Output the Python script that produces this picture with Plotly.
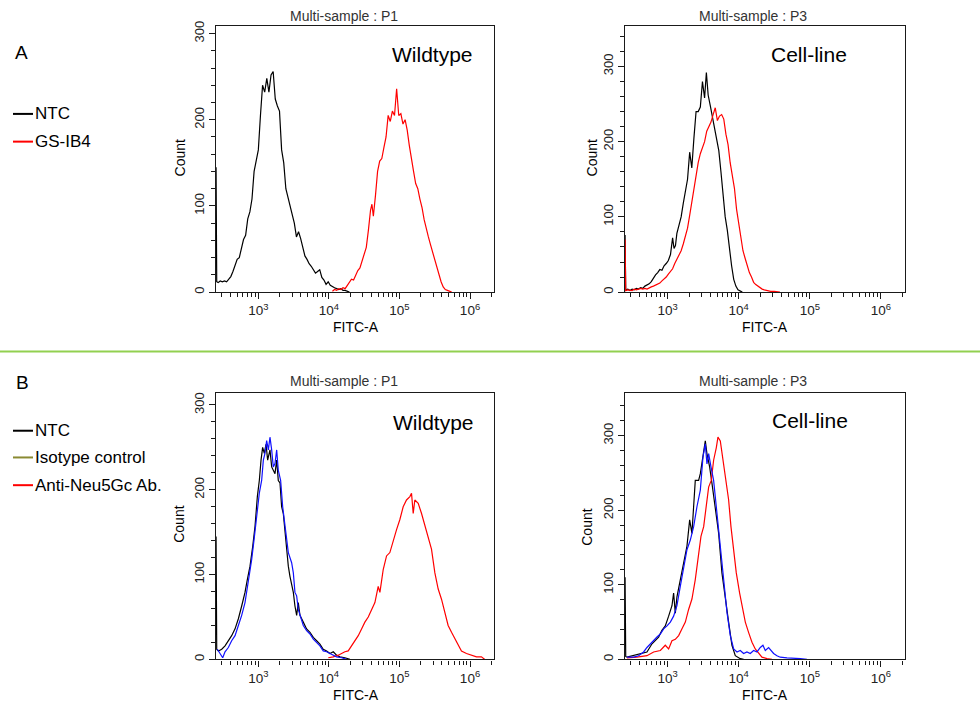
import plotly.graph_objects as go
from plotly.subplots import make_subplots

# ---------------- DATA (log10 FITC-A channel, cell count) ----------------
# Panel A, Wildtype (Multi-sample : P1)
a_wt_ntc_log = [2.401, 2.41, 2.43, 2.46, 2.49, 2.52, 2.55, 2.58, 2.61, 2.64, 2.67, 2.70, 2.73, 2.76, 2.79, 2.82,
                2.85, 2.88, 2.91, 2.94, 2.97, 3.00, 3.03, 3.06, 3.09, 3.12, 3.15, 3.18, 3.21, 3.24, 3.27, 3.30,
                3.33, 3.36, 3.39, 3.42, 3.45, 3.48, 3.51, 3.54, 3.57, 3.60, 3.63, 3.66, 3.69, 3.72, 3.75, 3.78,
                3.81, 3.84, 3.87, 3.90, 3.93, 3.96, 3.99, 4.02, 4.05, 4.08, 4.11, 4.14, 4.17, 4.20, 4.23, 4.26, 4.29]
a_wt_ntc_cnt = [145, 12, 11, 13, 12, 13, 12, 15, 18, 24, 31, 38, 40, 52, 61, 66,
                85, 93, 108, 140, 152, 165, 205, 240, 232, 248, 232, 252, 256, 224, 216, 210,
                165, 150, 120, 110, 102, 92, 80, 64, 70, 62, 50, 42, 38, 33, 30, 26,
                22, 24, 26, 17, 14, 9, 12, 8, 6, 5, 4, 3, 4, 2, 2, 1, 0]

a_wt_ib4_log = [4.05, 4.08, 4.11, 4.14, 4.17, 4.20, 4.23, 4.26, 4.29, 4.32, 4.35, 4.38, 4.41, 4.44, 4.47, 4.50,
                4.53, 4.56, 4.59, 4.61, 4.63, 4.66, 4.69, 4.72, 4.75, 4.78, 4.81, 4.84, 4.87, 4.90, 4.93, 4.96,
                4.99, 5.02, 5.05, 5.08, 5.11, 5.14, 5.17, 5.20, 5.23, 5.26, 5.29, 5.32, 5.35, 5.38, 5.41, 5.44,
                5.47, 5.50, 5.53, 5.56, 5.59, 5.62, 5.65, 5.68, 5.71, 5.74]
a_wt_ib4_cnt = [1, 3, 2, 4, 3, 5, 4, 8, 12, 15, 14, 19, 25, 28, 36, 42,
                52, 72, 95, 102, 88, 112, 140, 152, 155, 168, 180, 205, 198, 210, 205, 236,
                205, 207, 195, 200, 188, 170, 152, 140, 126, 120, 108, 98, 84, 72, 64, 55,
                46, 38, 28, 18, 12, 6, 3, 2, 1, 0]

# Panel A, Cell-line (Multi-sample : P3)
a_cl_ntc_log = [2.401, 2.41, 2.44, 2.47, 2.50, 2.53, 2.56, 2.59, 2.62, 2.65, 2.68, 2.71, 2.74, 2.77, 2.80, 2.83,
                2.86, 2.89, 2.92, 2.95, 2.98, 3.01, 3.04, 3.07, 3.09, 3.11, 3.13, 3.16, 3.19, 3.22, 3.25, 3.28,
                3.31, 3.34, 3.37, 3.40, 3.43, 3.46, 3.49, 3.52, 3.545, 3.57, 3.60, 3.63, 3.66, 3.69, 3.72, 3.75,
                3.78, 3.81, 3.84, 3.87, 3.90, 3.93, 3.96, 3.99, 4.02, 4.05]
a_cl_ntc_cnt = [76, 3, 4, 2, 4, 3, 5, 4, 6, 5, 8, 9, 11, 14, 19, 23,
                26, 30, 29, 35, 38, 42, 50, 72, 58, 62, 78, 88, 100, 118, 132, 150,
                186, 165, 205, 240, 240, 246, 280, 258, 292, 262, 248, 232, 218, 205, 188, 160,
                128, 100, 82, 55, 35, 17, 8, 3, 1, 0]

a_cl_ib4_log = [2.401, 2.41, 2.44, 2.47, 2.50, 2.53, 2.56, 2.59, 2.62, 2.65, 2.68, 2.71, 2.74, 2.77, 2.80, 2.83,
                2.86, 2.89, 2.92, 2.95, 2.98, 3.01, 3.04, 3.07, 3.10, 3.13, 3.16, 3.19, 3.22, 3.25, 3.28, 3.31,
                3.34, 3.37, 3.40, 3.43, 3.46, 3.49, 3.52, 3.55, 3.58, 3.61, 3.64, 3.67, 3.70, 3.73, 3.76, 3.79,
                3.82, 3.85, 3.88, 3.91, 3.94, 3.97, 4.00, 4.03, 4.06, 4.09, 4.12, 4.15, 4.18, 4.21, 4.24, 4.27,
                4.30, 4.33, 4.36, 4.40, 4.45, 4.50, 4.58]
a_cl_ib4_cnt = [70, 2, 3, 3, 2, 4, 3, 4, 5, 4, 5, 4, 6, 7, 8, 9,
                10, 12, 15, 17, 20, 24, 28, 31, 38, 43, 48, 55, 64, 74, 85, 102,
                120, 138, 160, 172, 184, 192, 200, 214, 220, 226, 236, 245, 228, 234, 236, 230,
                210, 196, 172, 155, 138, 110, 90, 72, 55, 45, 34, 26, 20, 13, 10, 8,
                5, 4, 3, 2, 1, 1, 0]

# Panel B, Wildtype (Multi-sample : P1)
b_wt_ntc_log = [2.401, 2.41, 2.434, 2.481, 2.528, 2.575, 2.622, 2.670, 2.717, 2.764, 2.811, 2.844, 2.882, 2.920,
                2.953, 2.986, 3.014, 3.038, 3.061, 3.085, 3.109, 3.132, 3.165, 3.189, 3.212, 3.236, 3.260,
                3.283, 3.307, 3.330, 3.354, 3.378, 3.401, 3.425, 3.448, 3.496, 3.519, 3.543, 3.566, 3.590,
                3.637, 3.684, 3.732, 3.779, 3.826, 3.873, 3.920, 3.968, 4.015, 4.062, 4.109, 4.156, 4.227, 4.298]
b_wt_ntc_cnt = [145, 12, 10, 12, 16, 22, 28, 36, 48, 63, 79, 94, 110, 133,
                157, 192, 211, 235, 250, 243, 254, 235, 247, 227, 223, 219, 235,
                211, 208, 180, 172, 149, 126, 110, 98, 79, 63, 52, 67, 52,
                44, 36, 32, 26, 22, 18, 12, 10, 7, 9, 5, 3, 2, 0]

b_wt_iso_log = [2.419, 2.457, 2.495, 2.528, 2.575, 2.622, 2.670, 2.717, 2.764, 2.811, 2.858, 2.906, 2.939,
                2.976, 3.014, 3.047, 3.071, 3.094, 3.118, 3.142, 3.165, 3.189, 3.212, 3.236, 3.260, 3.283,
                3.316, 3.345, 3.378, 3.401, 3.425, 3.472, 3.496, 3.519, 3.543, 3.566, 3.590, 3.637, 3.684,
                3.732, 3.779, 3.826, 3.873, 3.920, 3.968, 4.015, 4.062, 4.109, 4.180, 4.251]
b_wt_iso_cnt = [12, 7, 2, 9, 14, 22, 28, 40, 52, 67, 90, 118, 141,
                169, 196, 211, 235, 243, 258, 247, 262, 247, 227, 231, 247, 223,
                211, 180, 157, 141, 126, 114, 102, 79, 75, 59, 52, 40, 34,
                30, 24, 20, 16, 10, 9, 7, 5, 3, 2, 0]

b_wt_neu_log = [3.991, 4.062, 4.133, 4.180, 4.227, 4.274, 4.322, 4.369, 4.416, 4.463, 4.510, 4.558, 4.605,
                4.652, 4.699, 4.723, 4.770, 4.817, 4.864, 4.912, 4.959, 5.006, 5.053, 5.100, 5.148, 5.171,
                5.195, 5.218, 5.266, 5.313, 5.360, 5.407, 5.454, 5.502, 5.549, 5.596, 5.643, 5.690, 5.738,
                5.785, 5.832, 5.879, 5.950, 6.021, 6.092, 6.162, 6.210]
b_wt_neu_cnt = [2, 3, 5, 7, 9, 10, 16, 22, 28, 36, 44, 50, 59,
                67, 86, 79, 106, 122, 126, 141, 153, 165, 180, 188, 192, 196,
                172, 188, 184, 172, 157, 145, 130, 102, 83, 71, 55, 40, 32,
                24, 16, 10, 7, 5, 3, 3, 0]

# Panel B, Cell-line (Multi-sample : P3)
b_cl_ntc_log = [2.401, 2.41, 2.428, 2.522, 2.615, 2.709, 2.780, 2.826, 2.873, 2.920, 2.967, 3.014, 3.061,
                3.084, 3.108, 3.131, 3.178, 3.225, 3.272, 3.310, 3.342, 3.389, 3.436, 3.460, 3.497, 3.530,
                3.553, 3.591, 3.624, 3.671, 3.718, 3.764, 3.811, 3.858, 3.905, 3.952, 4.022, 4.069]
b_cl_ntc_cnt = [110, 4, 3, 5, 8, 10, 21, 25, 30, 39, 45, 58, 72,
                89, 62, 84, 107, 134, 152, 187, 169, 240, 240, 249, 276, 293,
                276, 258, 236, 205, 169, 116, 81, 50, 19, 5, 1, 0]

b_cl_iso_log = [2.428, 2.522, 2.592, 2.662, 2.709, 2.756, 2.803, 2.850, 2.897, 2.944, 2.991, 3.038, 3.084,
                3.131, 3.178, 3.225, 3.272, 3.319, 3.366, 3.413, 3.460, 3.497, 3.530, 3.553, 3.577, 3.610,
                3.647, 3.694, 3.741, 3.788, 3.835, 3.882, 3.929, 3.976, 4.022, 4.069, 4.116, 4.163, 4.210,
                4.257, 4.304, 4.341, 4.374, 4.421, 4.454, 4.491, 4.538, 4.585, 4.679, 4.773, 4.867, 4.960]
b_cl_iso_cnt = [3, 3, 5, 10, 16, 21, 25, 30, 34, 41, 45, 50, 58,
                72, 98, 125, 147, 160, 178, 205, 227, 271, 289, 262, 276, 258,
                240, 196, 152, 107, 63, 32, 14, 10, 12, 8, 10, 8, 12,
                10, 16, 19, 12, 16, 12, 8, 5, 3, 2, 2, 1, 0]

b_cl_neu_log = [2.428, 2.569, 2.709, 2.803, 2.897, 2.967, 3.014, 3.061, 3.108, 3.155, 3.202, 3.249, 3.295,
                3.342, 3.389, 3.436, 3.469, 3.507, 3.544, 3.577, 3.614, 3.647, 3.685, 3.708, 3.741, 3.779,
                3.811, 3.858, 3.891, 3.929, 3.966, 4.013, 4.046, 4.093, 4.140, 4.187, 4.233, 4.280, 4.327,
                4.398, 4.468]
b_cl_neu_cnt = [2, 3, 5, 10, 12, 19, 14, 25, 27, 32, 41, 50, 67,
                81, 107, 143, 165, 178, 205, 231, 240, 267, 284, 298, 293, 267,
                240, 214, 178, 143, 116, 89, 72, 50, 36, 23, 14, 8, 3,
                1, 0]

# axis ticks
x_major_tick_exponents = [3, 4, 5, 6]
x_minor_multipliers = [2, 3, 4, 5, 6, 7, 8, 9]
y_major_ticks = [0, 100, 200, 300]
x_log_range = [2.40, 6.34]
y_max = {"a_wt": 309, "a_cl": 354, "b_wt": 314, "b_cl": 357}

# ---------------- STYLE ----------------
FONT = "Liberation Sans, Arial, sans-serif"
BLACK = "#000000"
RED = "#ff0000"
BLUE = "#1010ff"
OLIVE = "#8a8a32"
GREEN = "#92d050"
AXIS = "#1a1a1a"
W, H = 980, 704


def px(x):
    return x / W


def py(y):
    return 1 - y / H


fig = make_subplots(rows=2, cols=2)

panels = [
    (1, 1, "a_wt", [(a_wt_ntc_log, a_wt_ntc_cnt, BLACK, "NTC"), (a_wt_ib4_log, a_wt_ib4_cnt, RED, "GS-IB4")]),
    (1, 2, "a_cl", [(a_cl_ntc_log, a_cl_ntc_cnt, BLACK, "NTC"), (a_cl_ib4_log, a_cl_ib4_cnt, RED, "GS-IB4")]),
    (2, 1, "b_wt", [(b_wt_ntc_log, b_wt_ntc_cnt, BLACK, "NTC"), (b_wt_neu_log, b_wt_neu_cnt, RED, "Anti-Neu5Gc Ab."),
                    (b_wt_iso_log, b_wt_iso_cnt, BLUE, "Isotype control")]),
    (2, 2, "b_cl", [(b_cl_ntc_log, b_cl_ntc_cnt, BLACK, "NTC"), (b_cl_neu_log, b_cl_neu_cnt, RED, "Anti-Neu5Gc Ab."),
                    (b_cl_iso_log, b_cl_iso_cnt, BLUE, "Isotype control")]),
]

for r, c, key, series in panels:
    for lg, cnt, col, name in series:
        fig.add_trace(go.Scatter(x=[10 ** v for v in lg], y=cnt, mode="lines", name=name,
                                 line=dict(color=col, width=1.2), showlegend=False), row=r, col=c)

x_domains = {1: [216 / W, 494 / W], 2: [625 / W, 905 / W]}
y_domains = {1: [py(290), py(21)], 2: [py(661), py(392)]}

major_vals = [10 ** e for e in x_major_tick_exponents]
major_text = ["10<sup>%d</sup>" % e for e in x_major_tick_exponents]
minor_vals = [m * 10 ** e for e in range(2, 7) for m in x_minor_multipliers]
xtickfont = dict(family=FONT, size=13.5, color="#222222")
ytickfont = dict(family=FONT, size=13, color="#222222")

for r, c, key, series in panels:
    fig.update_xaxes(type="log", range=x_log_range, domain=x_domains[c],
                     tickmode="array", tickvals=major_vals, ticktext=major_text,
                     ticks="outside", ticklen=6, tickwidth=1.2, tickcolor=AXIS,
                     minor=dict(tickmode="array", tickvals=minor_vals, ticks="outside", ticklen=4,
                                tickwidth=1, tickcolor=AXIS, showgrid=False),
                     showline=True, linecolor=AXIS, linewidth=1.3, mirror=True,
                     showgrid=False, zeroline=False, tickfont=xtickfont, row=r, col=c)
    fig.update_yaxes(range=[0, y_max[key]], domain=y_domains[r],
                     tickmode="array", tickvals=y_major_ticks, tickangle=-90,
                     ticks="outside", ticklen=6, tickwidth=1.2, tickcolor=AXIS,
                     minor=dict(dtick=20, tick0=0, ticks="outside", ticklen=4, tickwidth=1,
                                tickcolor=AXIS, showgrid=False),
                     showline=True, linecolor=AXIS, linewidth=1.3, mirror=True,
                     showgrid=False, zeroline=False, tickfont=ytickfont, row=r, col=c)

ann = []


def text(x, y, s, size, xanchor="center", angle=0, color="#000000"):
    ann.append(dict(x=px(x), y=py(y), xref="paper", yref="paper", text=s, showarrow=False,
                    xanchor=xanchor, yanchor="middle", textangle=angle,
                    font=dict(family=FONT, size=size, color=color)))


# panel letters
text(13, 48, "A", 19, xanchor="left")
text(14, 381, "B", 19, xanchor="left")
# legends
legend_items = [(110, "NTC", BLACK), (138, "GS-IB4", RED),
                (430, "NTC", BLACK), (457, "Isotype control", OLIVE), (485, "Anti-Neu5Gc Ab.", RED)]
shapes = []
for yy, label, col in legend_items:
    text(33, yy, label, 17, xanchor="left")
    shapes.append(dict(type="line", xref="paper", yref="paper", x0=px(13), x1=px(33), y0=py(yy), y1=py(yy),
                       line=dict(color=col, width=2)))
# titles
text(344, 11, "Multi-sample : P1", 14, color="#333333")
text(753, 11, "Multi-sample : P3", 14, color="#333333")
text(344, 380, "Multi-sample : P1", 14, color="#333333")
text(753, 380, "Multi-sample : P3", 14, color="#333333")
# labels inside plots
text(432, 50, "Wildtype", 21)
text(809, 50, "Cell-line", 21)
text(433, 422, "Wildtype", 21)
text(810, 420, "Cell-line", 21)
# axis titles
text(180, 155, "Count", 14, angle=-90)
text(592, 155, "Count", 14, angle=-90)
text(179, 525, "Count", 14, angle=-90)
text(587, 528, "Count", 14, angle=-90)
text(356, 325, "FITC-A", 14)
text(765, 325, "FITC-A", 14)
text(356, 697, "FITC-A", 14)
text(765, 697, "FITC-A", 14)

# green separator
shapes.append(dict(type="line", xref="paper", yref="paper", x0=0, x1=1, y0=py(350), y1=py(350),
                   line=dict(color=GREEN, width=2)))

fig.update_layout(width=W, height=H, margin=dict(l=0, r=0, t=0, b=0),
                  paper_bgcolor="white", plot_bgcolor="white",
                  annotations=ann, shapes=shapes, showlegend=False)

fig.write_html("out.html")
